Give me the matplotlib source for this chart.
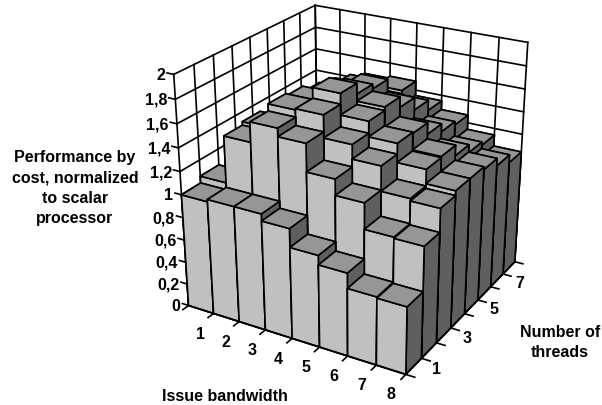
import numpy as np
import matplotlib
matplotlib.use("Agg")
import matplotlib.pyplot as plt
from mpl_toolkits.mplot3d import proj3d

plt.rcParams["font.family"] = ["Liberation Sans", "DejaVu Sans"]

# rows run from thread count 1 (front) to 8 (back), columns are issue bandwidth 1-8
bandwidth_ticks = [1, 2, 3, 4, 5, 6, 7, 8]
thread_ticks = [1, 3, 5, 7]
z_ticks = [0, 0.2, 0.4, 0.6, 0.8, 1, 1.2, 1.4, 1.6, 1.8, 2]
threads_1 = [1.00, 1.02, 1.02, 0.96, 0.80, 0.72, 0.59, 0.58]
threads_2 = [1.06, 1.46, 1.63, 1.56, 1.325, 1.19, 0.97, 0.96]
threads_3 = [1.00, 1.49, 1.69, 1.70, 1.51, 1.39, 1.18, 1.16]
threads_4 = [0.95, 1.45, 1.67, 1.79, 1.61, 1.48, 1.32, 1.20]
threads_5 = [0.95, 1.40, 1.62, 1.70, 1.64, 1.47, 1.33, 1.20]
threads_6 = [1.00, 1.38, 1.58, 1.66, 1.55, 1.37, 1.24, 1.175]
threads_7 = [0.98, 1.35, 1.53, 1.45, 1.44, 1.30, 1.17, 1.11]
threads_8 = [1.00, 1.30, 1.46, 1.48, 1.35, 1.27, 1.14, 1.04]
heights = np.array([threads_1, threads_2, threads_3, threads_4,
                    threads_5, threads_6, threads_7, threads_8])

W, H = 602, 406
LW = 1.2
TOP, FRONT, SIDE = "#969696", "#C0C0C0", "#5F5F5F"
FS = 11.5

fig = plt.figure(figsize=(W / 100, H / 100), dpi=100)
ax = fig.add_axes([142.6 / W, 15.82 / H, 417.19 / W, 417.19 / H],
                  projection="3d", computed_zorder=False)
ax.set_xlim(0, 8)
ax.set_ylim(0, 8)
ax.set_zlim(0, 2)
ax.view_init(24.7, -60)
ax.set_proj_type("persp", focal_length=0.5629)
ax.set_box_aspect((1, 1.0056, 0.9981))
ax.set_axis_off()


def line(xs, ys, zs, order=0):
    ax.plot(xs, ys, zs, color="black", lw=LW, zorder=order, clip_on=False)


def label(x, y, z, text, dx, dy, ha="center"):
    xv, yv, _ = proj3d.proj_transform(x, y, z, ax.get_proj())
    ax.annotate(text, (xv, yv), xytext=(dx * 0.72, dy * 0.72), textcoords="offset points",
                ha=ha, va="center", fontsize=FS, fontweight="bold", annotation_clip=False)


# walls
for gz in np.arange(0, 2.01, 0.2):
    line([0, 0, 8], [0, 8, 8], [gz, gz, gz])
for k in range(9):
    line([0, 0], [k, k], [0, 2])
    line([k, k], [8, 8], [0, 2])

# bars, far to near
order = 1
for j in range(7, -1, -1):
    for i in range(8):
        ax.bar3d(i, j, 0, 1, 1, heights[j, i],
                 color=[TOP, TOP, FRONT, FRONT, SIDE, SIDE],
                 edgecolor="black", linewidth=LW, shade=False, zorder=order)
        order += 1

# axis lines and ticks on top
line([0, 8, 8], [0, 0, 8], [0, 0, 0], order)
for k in range(9):
    line([k, k], [0, -0.3], [0, 0], order)
    line([8, 8.3], [k, k], [0, 0], order)
for tick in z_ticks:
    line([0, -0.25], [0, 0], [tick, tick], order)
    label(0, 0, tick, f"{tick:g}".replace(".", ","), -8, 0, ha="right")

for k, tick in enumerate(bandwidth_ticks):
    label(k + 0.5, 0, 0, str(tick), 0, -24)
for tick in thread_ticks:
    label(8, tick - 0.5, 0, str(tick), 23, -2)

fig.text(75 / W, 1 - 188 / H, "Performance by\ncost, normalized\nto scalar\nprocessor",
         ha="center", va="center", fontsize=FS, fontweight="bold", linespacing=1.46)
fig.text(560 / W, 1 - 342.5 / H, "Number of\nthreads",
         ha="center", va="center", fontsize=FS, fontweight="bold", linespacing=1.46)
fig.text(225 / W, 1 - 397 / H, "Issue bandwidth",
         ha="center", va="center", fontsize=FS, fontweight="bold")

fig.savefig("out.png", dpi=100)
